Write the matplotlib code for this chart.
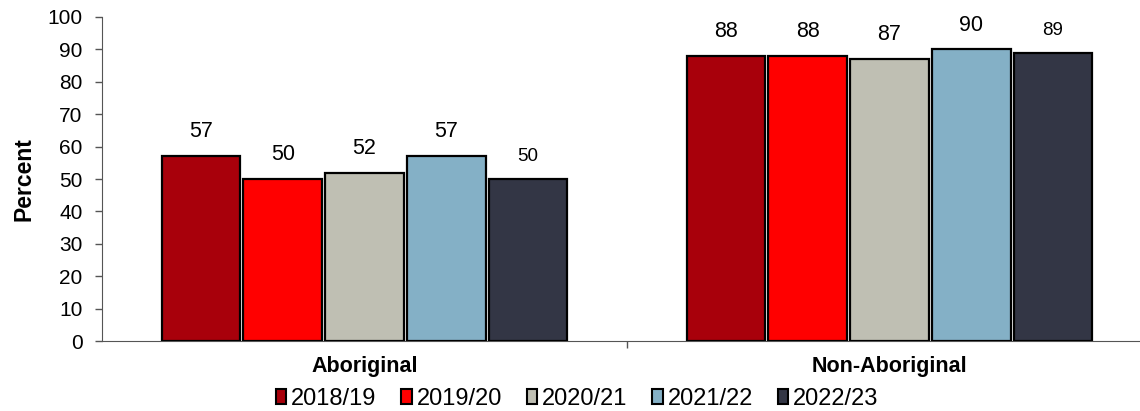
import numpy as np
import matplotlib
matplotlib.use("Agg")
import matplotlib.pyplot as plt
from matplotlib.patches import Patch

plt.rcParams['font.family'] = ['Liberation Sans', 'DejaVu Sans']

# data
groups = ["Aboriginal", "Non-Aboriginal"]
years = ["2018/19", "2019/20", "2020/21", "2021/22", "2022/23"]
aboriginal = [57, 50, 52, 57, 50]
non_aboriginal = [88, 88, 87, 90, 89]
colors = ["#A8000B", "#FF0000", "#BFBFB3", "#84B0C6", "#333645"]

values = np.array([aboriginal, non_aboriginal])  # shape (groups, years)

fig = plt.figure(figsize=(11.4, 4.11), dpi=100)
# axis runs a little past the right edge, like the original crop
ax = fig.add_axes([102 / 1140, 70 / 411, 1050 / 1140, 324 / 411])

x = np.arange(len(groups))
slot = 0.1556
width = 0.15
for i, yr in enumerate(years):
    pos = x + (i - 2) * slot
    bars = ax.bar(pos, values[:, i], width, color=colors[i],
                  edgecolor="black", linewidth=1.6, zorder=3)
    fs = 13.5 if i == 4 else 15.5
    for b, v in zip(bars, values[:, i]):
        ax.annotate(f"{v}", (b.get_x() + b.get_width() / 2, v),
                    xytext=(0, 10), textcoords="offset points",
                    ha="center", va="bottom", fontsize=fs)

ax.set_xlim(-0.5, 1.5)
ax.set_ylim(0, 100)
ax.set_yticks(range(0, 101, 10))
ax.tick_params(axis="y", labelsize=15, length=5, width=1, color="#555555", pad=9)

ax.set_xticks(x)
ax.set_xticklabels(groups, fontsize=15.5, fontweight="bold")
ax.tick_params(axis="x", which="major", length=0, pad=11)
ax.set_xticks([0.5], minor=True)
ax.tick_params(axis="x", which="minor", length=5, width=1, color="#555555")

for s in ["top", "right"]:
    ax.spines[s].set_visible(False)
ax.spines["left"].set_color("#555555")
ax.spines["bottom"].set_color("#555555")

ax.set_ylabel("Percent", fontsize=16.5, fontweight="bold")
ax.yaxis.set_label_coords(-66 / 1050, 0.5)

handles = [Patch(facecolor=c, edgecolor="black", linewidth=1.5) for c in colors]
fig.legend(handles, years, loc="center", bbox_to_anchor=(577 / 1140, 1 - 399 / 411),
           ncol=5, frameon=False, fontsize=17, handlelength=0.45, handleheight=0.6,
           handletextpad=0.2, columnspacing=1.05)

fig.savefig("out.png", dpi=100)
